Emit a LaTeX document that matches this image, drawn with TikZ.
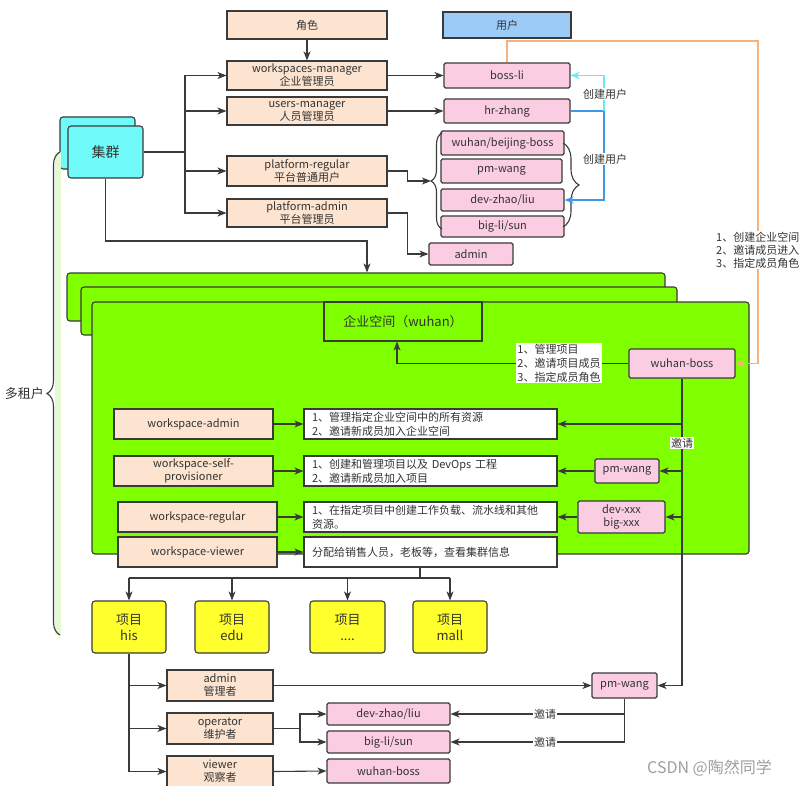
\documentclass[tikz,border=0pt]{standalone}
\usepackage{fontspec}
\setmainfont{Noto Sans CJK SC}
\usetikzlibrary{arrows.meta,decorations.pathreplacing}
\definecolor{peach}{HTML}{FCE4D0}
\definecolor{pinkc}{HTML}{FBCDE2}
\definecolor{cyanc}{HTML}{70FAFA}
\definecolor{userblue}{HTML}{9DCBF7}
\definecolor{greenc}{HTML}{80FF00}
\definecolor{yellowc}{HTML}{FFFF2E}
\definecolor{edgec}{HTML}{3A3A3A}
\definecolor{txt}{HTML}{333333}
\definecolor{orangec}{HTML}{F7B27C}
\definecolor{cyanline}{HTML}{63EEF5}
\definecolor{blueline}{HTML}{3F98E6}
\definecolor{palegreen}{HTML}{E4F9D2}
\begin{document}
\begin{tikzpicture}[x=1pt,y=-1pt,
  every node/.style={text=txt, inner sep=0pt, align=center, font=\fontsize{11}{13}\selectfont},
  wh/.style 2 args={minimum width=#1pt, minimum height=#2pt},
  base/.style={draw=edgec, line width=1.1pt},
  peachbox/.style={base, fill=peach},
  pinkbox/.style={base, fill=pinkc, rounded corners=1.5pt},
  cyanbox/.style={base, fill=cyanc, rounded corners=3pt, font=\fontsize{14}{16}\selectfont},
  greenbox/.style={base, fill=greenc, rounded corners=3pt},
  projbox/.style={base, fill=yellowc, rounded corners=3pt, font=\fontsize{13}{16}\selectfont},
  descbox/.style={base, fill=white, text width=237pt, inner xsep=8pt, inner ysep=0pt, align=left, minimum height=30pt, font=\fontsize{11}{14}\selectfont},
  lbl/.style={fill=white, inner sep=1pt},
  ln/.style={draw=edgec, line width=1.1pt},
  tip/.style={-{Stealth[length=9pt,width=7pt,inset=2.5pt]}},
  arr/.style={ln, tip},
  cyanarr/.style={draw=cyanline, line width=1.1pt, tip},
  bluearr/.style={draw=blueline, line width=1.1pt, tip},
  orangearr/.style={draw=orangec, line width=1.1pt, tip},
  bracedeco/.style={ln, decorate, decoration={brace, amplitude=#1}}
]
\useasboundingbox[fill=white] (0,0) rectangle (800,786);

% ---------- top part ----------
\node[peachbox, wh={160}{28}] (jue) at (307,25) {角色};
\node[base, fill=userblue, wh={128}{26}] (yh) at (507,25) {用户};
\node[peachbox, wh={160}{29}] (wsm) at (307,75.5) {workspaces-manager\\企业管理员};
\node[peachbox, wh={160}{28}] (um) at (307,111) {users-manager\\人员管理员};
\node[peachbox, wh={160}{30}] (pr) at (307,171) {platform-regular\\平台普通用户};
\node[peachbox, wh={160}{28}] (pa) at (307,213) {platform-admin\\平台管理员};
\node[cyanbox, wh={75}{52}] (cb) at (97.5,143) {};
\node[cyanbox, wh={75}{52}] (cf) at (105.5,152) {集群};

\node[pinkbox, wh={126}{25}] (bossli) at (507,75.5) {boss-li};
\node[pinkbox, wh={126}{24}] (hrz) at (507,111) {hr-zhang};
\node[pinkbox, wh={123}{24}] (wbb) at (502.5,143) {wuhan/beijing-boss};
\node[pinkbox, wh={121}{24}] (pmw1) at (501.5,171) {pm-wang};
\node[pinkbox, wh={123}{22}] (dzl1) at (502.5,200) {dev-zhao/liu};
\node[pinkbox, wh={123}{21}] (bls1) at (502.5,226.5) {big-li/sun};
\node[pinkbox, wh={84}{22}] (adm1) at (471,254) {admin};

% braces of user group
\draw[bracedeco=11pt] (442,229) -- (442,133);
\draw[bracedeco=16pt] (563,143) -- (563,227);
\coordinate (bt1) at (431,181);

% multi tenant brace
\fill[palegreen] (55,152) rectangle (61,635);
\draw[bracedeco=13pt] (60,635) -- (60,152);
\node[anchor=east, font=\fontsize{13}{15}\selectfont] (dzh) at (44,394) {多租户};

% connectors top
\draw[arr] (jue) -- (wsm);
\coordinate (sp) at (185,152);
\draw[ln] (cf.east) -- (sp);
\draw[arr] (sp) |- (wsm.west);
\draw[arr] (sp) |- (um.west);
\draw[arr] (sp) |- (pr.west);
\draw[arr] (sp) |- (pa.west);
\draw[arr] (wsm) -- (bossli);
\draw[arr] (um) -- (hrz);
\draw[arr] (pr.east) -- ++(20,0) |- (bt1);
\draw[arr] (pa.east) -- ++(20,0) |- (adm1.west);

\coordinate (cb1) at (604,111);
\draw[draw=blueline, line width=1.1pt] (hrz.east) -- (cb1);
\draw[cyanarr] (cb1) |- (bossli.east);
\draw[bluearr] (cb1) |- (dzl1.east);
\node[lbl] (cy1) at (605,94) {创建用户};
\node[lbl] (cy2) at (605,159) {创建用户};

% ---------- green workspace ----------
\node[greenbox, wh={598}{48}] (g1) at (366,297) {};
\node[greenbox, wh={596}{48}] (g2) at (379,311) {};
\node[greenbox, wh={657}{252}] (g3) at (420.5,428) {};

\coordinate (j1) at (367,241);
\draw[arr] (cf.south) |- (j1) -- (j1 |- g1.north);

\node[base, fill=greenc, wh={158}{39}, font=\fontsize{13}{15}\selectfont] (wsp) at (403,321.5) {企业空间（wuhan）};
\node[pinkbox, wh={106}{29}] (wb) at (682,363.5) {wuhan-boss};

\coordinate (o1) at (758,41);
\draw[orangearr] (bossli.north) |- (o1) |- (wb.east);
\node[lbl, anchor=west, align=left] (otx) at (715,250) {1、创建企业空间\\2、邀请成员进入\\3、指定成员角色};

\coordinate (k1) at (397,363.5);
\draw[arr] (wb.west) -- (k1) -- (k1 |- wsp.south);
\node[lbl, align=left, font=\fontsize{11}{14}\selectfont] (mtx) at (559,363) {1、管理项目\\2、邀请项目成员\\3、指定成员角色};

\node[peachbox, wh={159}{30}] (r1) at (193.5,424) {workspace-admin};
\node[peachbox, wh={159}{30}] (r2) at (193.5,471) {workspace-self-\\provisioner};
\node[peachbox, wh={159}{30}] (r3) at (197.5,517) {workspace-regular};
\node[peachbox, wh={159}{30}] (r4) at (197.5,552) {workspace-viewer};

\node[descbox] (d1) at (430.5,424) {1、管理指定企业空间中的所有资源\\2、邀请新成员加入企业空间};
\node[descbox] (d2) at (430.5,471) {1、创建和管理项目以及 DevOps 工程\\2、邀请新成员加入项目};
\node[descbox] (d3) at (430.5,517) {1、在指定项目中创建工作负载、流水线和其他\\资源。};
\node[descbox] (d4) at (430.5,552) {分配给销售人员，老板等，查看集群信息};

\node[pinkbox, wh={64}{24}] (pmw2) at (627,471) {pm-wang};
\node[pinkbox, wh={87}{32}] (devx) at (621.5,517) {dev-xxx\\big-xxx};

\draw[arr] (r1) -- (d1);
\draw[arr] (r2) -- (d2);
\draw[arr] (r3) -- (d3);
\draw[arr] (r4) -- (d4);
\draw[arr] (pmw2) -- (d2);
\draw[arr] (devx) -- (d3);

% ---------- projects ----------
\node[projbox, wh={74}{52}] (his) at (129,627) {项目\\his};
\node[projbox, wh={74}{52}] (edu) at (232,627) {项目\\edu};
\node[projbox, wh={75}{52}] (pdot) at (347.5,627) {项目\\....};
\node[projbox, wh={74}{52}] (mall) at (450,627) {项目\\mall};

\coordinate (h1) at (420,578);
\draw[ln] (h1 |- d4.south) -- (h1);
\draw[ln] (his.north |- h1) -- (mall.north |- h1);
\draw[arr] (his.north |- h1) -- (his.north);
\draw[arr] (edu.north |- h1) -- (edu.north);
\draw[arr] (pdot.north |- h1) -- (pdot.north);
\draw[arr] (mall.north |- h1) -- (mall.north);

% ---------- bottom ----------
\node[peachbox, wh={106}{31}] (a2) at (220,685.5) {admin\\管理者};
\node[peachbox, wh={106}{31}] (op) at (220,728.5) {operator\\维护者};
\node[peachbox, wh={106}{31}] (vw) at (220,771.5) {viewer\\观察者};
\node[pinkbox, wh={65}{25}] (pmw3) at (624.5,685.5) {pm-wang};
\node[pinkbox, wh={123}{22}] (dzl2) at (388.5,714) {dev-zhao/liu};
\node[pinkbox, wh={123}{22}] (bls2) at (388.5,742) {big-li/sun};
\node[pinkbox, wh={123}{24}] (wb2) at (388.5,771) {wuhan-boss};

% invitation line from wuhan-boss
\draw[arr] (wb.south) |- (pmw3.east);
\draw[arr] (wb.south |- d1.east) -- (d1.east);
\draw[arr] (wb.south |- pmw2.east) -- (pmw2.east);
\draw[arr] (wb.south |- devx.east) -- (devx.east);
\node[lbl] (yq1) at (682,443) {邀请};

\draw[arr] (his.south) |- (vw.west);
\draw[arr] (his.south |- a2.west) -- (a2.west);
\draw[arr] (his.south |- op.west) -- (op.west);
\draw[arr] (a2.east) -- (pmw3.west);
\coordinate (q1) at (300,728.5);
\draw[ln] (op.east) -- (q1);
\draw[arr] (q1) |- (dzl2.west);
\draw[arr] (q1) |- (bls2.west);
\draw[arr] (vw.east) -- (wb2.west);

\draw[arr] (pmw3.south) |- (bls2.east);
\draw[arr] (pmw3.south |- dzl2.east) -- (dzl2.east);
\node[lbl] (yq2) at (545,714) {邀请};
\node[lbl] (yq3) at (545,742) {邀请};

\node[anchor=west, text=gray!75, font=\fontsize{16}{18}\selectfont] (csdn) at (647,768) {CSDN @陶然同学};
\end{tikzpicture}
\end{document}
